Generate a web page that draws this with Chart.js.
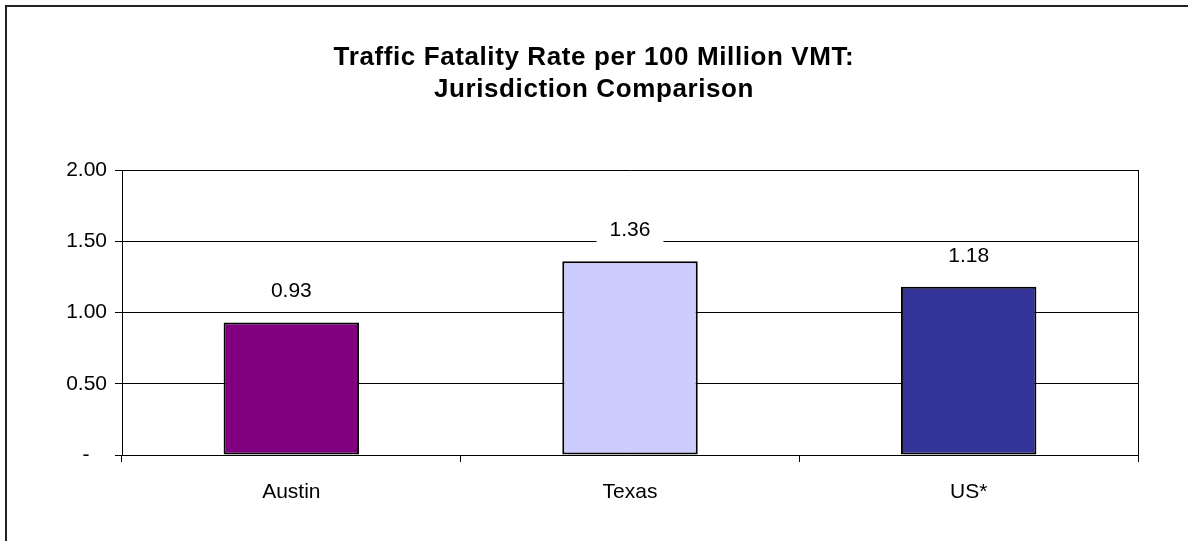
<!DOCTYPE html>
<html>
<head>
<meta charset="utf-8">
<script src="https://cdn.jsdelivr.net/npm/chart.js@4.4.1/dist/chart.umd.min.js"></script>
<style>
  body { margin: 0; background: #fff; }
  #wrap { position: absolute; left: 0; top: 0; width: 1188px; height: 541px; }
</style>
</head>
<body>
<div id="wrap"><canvas id="myChart" width="1188" height="541"></canvas></div>
<script>
// chart data
const categories = ['Austin', 'Texas', 'US*'];
const fatalityRates = [0.93, 1.36, 1.18];
const barColors = ['#800080', '#CCCCFF', '#333399'];
const titleLines = ['Traffic Fatality Rate per 100 Million VMT:', 'Jurisdiction Comparison'];
const yMin = 0, yMax = 2, yStep = 0.5;

const FONT = '"Liberation Sans", Arial, sans-serif';

// white page + outer frame + title
const framePlugin = {
    id: 'frame',
    beforeDraw(chart) {
        const c = chart.ctx;
        c.save();
        c.fillStyle = '#fff';
        c.fillRect(0, 0, chart.width, chart.height);
        c.strokeStyle = '#222';
        c.lineWidth = 2;
        c.beginPath();
        c.moveTo(6, chart.height);
        c.lineTo(6, 6);
        c.lineTo(chart.width, 6);
        c.stroke();
        c.restore();
    },
    afterDraw(chart) {
        const c = chart.ctx;
        c.save();
        c.fillStyle = '#000';
        c.font = 'bold 26px ' + FONT;
        if ('letterSpacing' in c) c.letterSpacing = '0.6px';
        c.textAlign = 'center';
        c.textBaseline = 'middle';
        titleLines.forEach((t, i) => c.fillText(t, 594, 58 + i * 32));
        if ('letterSpacing' in c) c.letterSpacing = '0px';
        // right edge of plot area with its tick below
        const a = chart.chartArea;
        c.strokeStyle = '#000';
        c.lineWidth = 1;
        c.beginPath();
        c.moveTo(Math.round(a.right) + 0.5, a.top);
        c.lineTo(Math.round(a.right) + 0.5, a.bottom + 7);
        c.stroke();
        c.restore();
    }
};

// value labels on a white box above each bar
const valueLabels = {
    id: 'valueLabels',
    afterDatasetsDraw(chart) {
        const c = chart.ctx;
        const meta = chart.getDatasetMeta(0);
        c.save();
        c.font = '21px ' + FONT;
        c.textAlign = 'center';
        c.textBaseline = 'middle';
        meta.data.forEach((bar, i) => {
            const txt = fatalityRates[i].toFixed(2);
            const y = bar.y - 31;
            const w = c.measureText(txt).width + 26;
            c.fillStyle = '#fff';
            c.fillRect(bar.x - w / 2, y - 13, w, 26);
            c.fillStyle = '#000';
            c.fillText(txt, bar.x, y);
        });
        c.restore();
    }
};

const ctx = document.getElementById('myChart').getContext('2d');
const myChart = new Chart(ctx, {
    type: 'bar',
    data: {
        labels: categories,
        datasets: [{
            data: fatalityRates,
            backgroundColor: barColors,
            borderColor: '#000',
            borderWidth: 2,
            borderSkipped: false,
            barPercentage: 0.4,
            categoryPercentage: 1.0
        }]
    },
    options: {
        responsive: false,
        animation: false,
        layout: { padding: { top: 170, right: 50, left: 0, bottom: 0 } },
        plugins: {
            legend: { display: false },
            title: { display: false },
            tooltip: { enabled: false }
        },
        scales: {
            x: {
                afterFit(scale) { scale.height = 86; },
                grid: {
                    display: true,
                    offset: true,
                    drawOnChartArea: false,
                    drawTicks: true,
                    tickLength: 7,
                    color: '#000'
                },
                border: { display: true, color: '#000', width: 1 },
                ticks: {
                    color: '#000',
                    padding: 18,
                    font: { family: FONT, size: 21 }
                }
            },
            y: {
                min: yMin,
                max: yMax,
                afterFit(scale) { scale.width = 122; },
                grid: {
                    color: '#000',
                    lineWidth: 1,
                    drawTicks: true,
                    tickLength: 7
                },
                border: { display: true, color: '#000', width: 1 },
                ticks: {
                    stepSize: yStep,
                    color: '#000',
                    padding: 8,
                    font: { family: FONT, size: 21 },
                    callback: v => v === 0 ? '-   ' : v.toFixed(2)
                }
            }
        }
    },
    plugins: [framePlugin, valueLabels]
});
</script>
</body>
</html>
